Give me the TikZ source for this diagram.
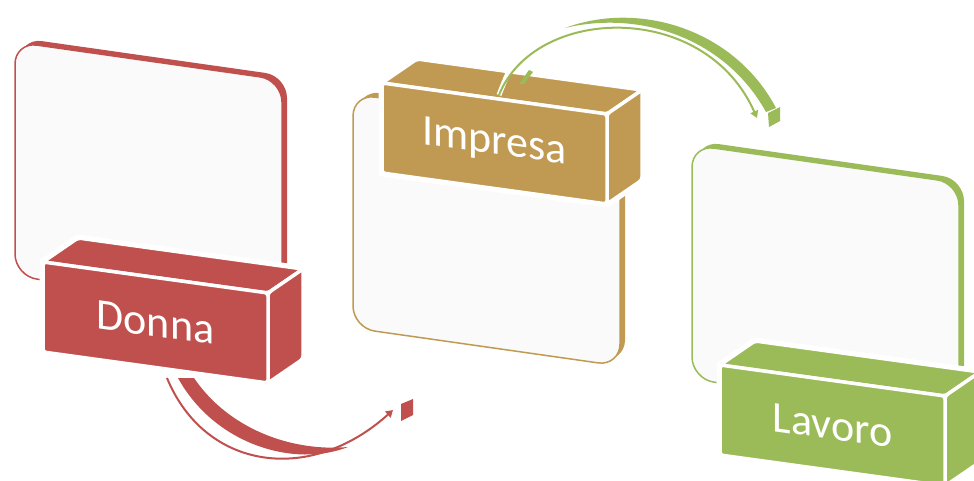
\documentclass[tikz,border=0pt]{standalone}
\usepackage{fontspec}
\setmainfont{Carlito}
\usetikzlibrary{arrows.meta}
\definecolor{donnared}{HTML}{C0504D}
\definecolor{impresagold}{HTML}{C09A52}
\definecolor{lavorogreen}{HTML}{9BBB59}
\definecolor{cardfill}{HTML}{FAFAFA}

\begin{document}
\begin{tikzpicture}[x=1pt,y=-1pt,
  cardback/.style={fill=#1,rounded corners=22pt},
  cardfront/.style={draw=#1,fill=cardfill,line width=1.5pt,rounded corners=22pt},
  boxhalo/.style={draw=white,fill=white,line width=7pt,line join=round},
  boxface/.style={fill=#1,draw=white,line width=3.5pt,rounded corners=3pt,line join=round},
  boxtext/.style={text=white,font=\fontsize{44}{44}\selectfont,yslant=-0.138,inner sep=0pt},
  arrowline/.style={draw=#1,line width=2pt},
  ]

\useasboundingbox (0,0) rectangle (974,481);

% Donna
\begin{scope}[shift={(15,42)}]
 \fill[cardback=donnared] (5,-4) -- (272,34) -- (272,268) -- (5,230) -- cycle;
 \draw[cardfront=donnared] (0,0) -- (267,38) -- (267,272) -- (0,234) -- cycle;
 \draw[boxhalo] (28,220) -- (63,196) -- (288,227) -- (288,317) -- (253,341) -- (28,310) -- cycle;
 \draw[boxface=donnared] (28,220) -- (63,196) -- (288,227) -- (253,251) -- cycle;
 \draw[boxface=donnared] (253,251) -- (288,227) -- (288,317) -- (253,341) -- cycle;
 \draw[boxface=donnared] (28,220) -- (253,251) -- (253,341) -- (28,310) -- cycle;
 \node[boxtext] (donna) at (140.5,280.5) {Donna};
\end{scope}

% Impresa
\begin{scope}[shift={(353,94)}]
 \fill[cardback=impresagold] (5,-4) -- (272,34) -- (272,268) -- (5,230) -- cycle;
 \draw[cardfront=impresagold] (0,0) -- (267,38) -- (267,272) -- (0,234) -- cycle;
 \draw[boxhalo] (29,-11) -- (64,-35) -- (289,-4) -- (289,86) -- (254,110) -- (29,79) -- cycle;
 \draw[boxface=impresagold] (29,-11) -- (64,-35) -- (289,-4) -- (254,20) -- cycle;
 \draw[boxface=impresagold] (254,20) -- (289,-4) -- (289,86) -- (254,110) -- cycle;
 \draw[boxface=impresagold] (29,-11) -- (254,20) -- (254,110) -- (29,79) -- cycle;
 \node[boxtext] (impresa) at (141.5,49.5) {Impresa};
\end{scope}

% Lavoro
\begin{scope}[shift={(692,145)}]
 \fill[cardback=lavorogreen] (5,-4) -- (272,34) -- (272,268) -- (5,230) -- cycle;
 \draw[cardfront=lavorogreen] (0,0) -- (267,38) -- (267,272) -- (0,234) -- cycle;
 \draw[boxhalo] (28,220) -- (63,196) -- (288,227) -- (288,317) -- (253,341) -- (28,310) -- cycle;
 \draw[boxface=lavorogreen] (28,220) -- (63,196) -- (288,227) -- (253,251) -- cycle;
 \draw[boxface=lavorogreen] (253,251) -- (288,227) -- (288,317) -- (253,341) -- cycle;
 \draw[boxface=lavorogreen] (28,220) -- (253,251) -- (253,341) -- (28,310) -- cycle;
 \node[boxtext] (lavoro) at (140.5,280.5) {Lavoro};
\end{scope}

% arrow Donna -> Impresa
\coordinate (rs) at (167,378);
\coordinate (re) at (393,410);
\fill[donnared] (178,378) .. controls (215,445) and (295,468) .. (348,447)
  .. controls (290,452) and (228,428) .. (194,378) -- cycle;
\draw[arrowline=donnared,-{Triangle[length=7pt,width=8pt]}] (rs) .. controls (205,470) and (310,485) .. (re);
\fill[donnared] (401,404) -- (413,399) -- (413,415) -- (401,421) -- cycle;

% arrow Impresa -> Lavoro
\coordinate (gs) at (499,95);
\coordinate (ge) at (757,118);
\fill[lavorogreen] (565,28) .. controls (640,0) and (735,30) .. (776,108)
  -- (766,112) .. controls (725,38) and (640,10) .. (565,28) -- cycle;
\fill[lavorogreen] (529,70) -- (533,72) -- (524,84) -- (519,84) -- cycle;
\draw[white,line width=5pt] (gs) .. controls (512,62) .. (527,60);
\draw[arrowline=lavorogreen,-{Triangle[length=7pt,width=8pt]}] (gs) .. controls (535,5) and (705,0) .. (ge);
\fill[lavorogreen] (768,113) -- (780,107) -- (780,121) -- (769,127) -- cycle;

\end{tikzpicture}
\end{document}
